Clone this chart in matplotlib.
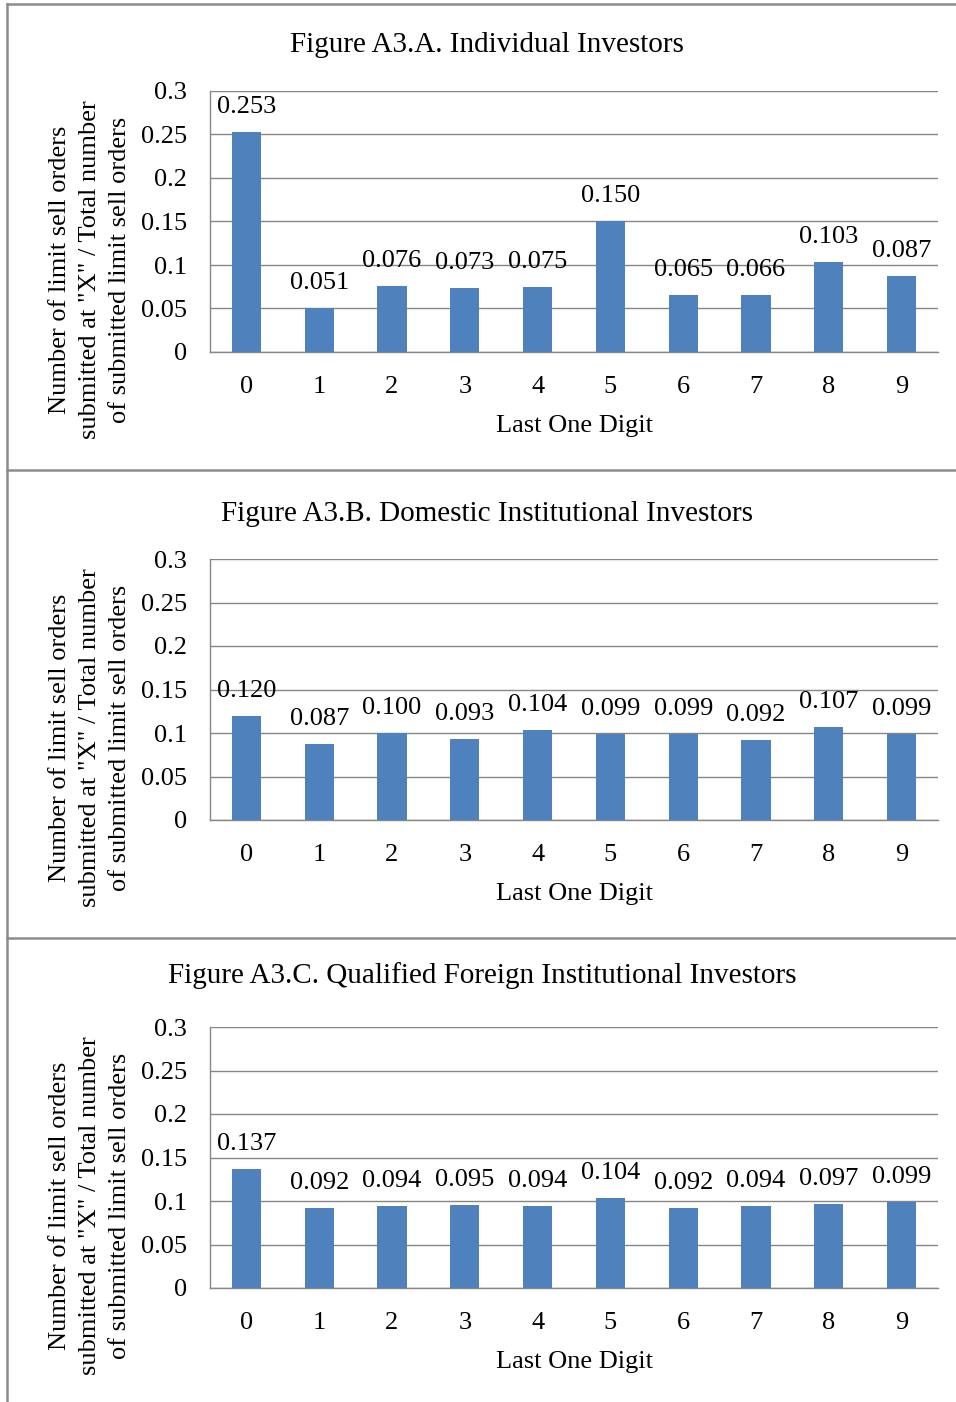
import matplotlib
matplotlib.use("Agg")
import matplotlib.pyplot as plt
from matplotlib.lines import Line2D

plt.rcParams['font.family'] = ['Liberation Serif', 'DejaVu Serif']

digits = ['0', '1', '2', '3', '4', '5', '6', '7', '8', '9']
vals_a = [0.253, 0.051, 0.076, 0.073, 0.075, 0.150, 0.065, 0.066, 0.103, 0.087]
vals_b = [0.120, 0.087, 0.100, 0.093, 0.104, 0.099, 0.099, 0.092, 0.107, 0.099]
vals_c = [0.137, 0.092, 0.094, 0.095, 0.094, 0.104, 0.092, 0.094, 0.097, 0.099]
titles = ["Figure A3.A. Individual Investors",
          "Figure A3.B. Domestic Institutional Investors",
          "Figure A3.C. Qualified Foreign Institutional Investors"]
yticks = [0, 0.05, 0.1, 0.15, 0.2, 0.25, 0.3]
ytick_labels = ['0', '0.05', '0.1', '0.15', '0.2', '0.25', '0.3']
ylabel_lines = ['Number of limit sell orders',
                'submitted at "X" / Total number',
                'of submitted limit sell orders']
xlabel = "Last One Digit"

W, H = 956, 1402
fig = plt.figure(figsize=(W / 100, H / 100), dpi=100)

bar_color = '#4F81BD'
grid_color = '#868686'
fs = 19
tfs = 21

# panel geometry in pixels: (axes top, axes bottom, title y, ylabel center y, title x)
panels = [
    (91, 352, 45, 270, 487),
    (559, 820, 514, 738, 487),
    (1027, 1288, 976, 1206, 482),
]
all_vals = [vals_a, vals_b, vals_c]

for (top, bot, ty, yc, tx), vals, title in zip(panels, all_vals, titles):
    ax = fig.add_axes([210 / W, 1 - bot / H, 728 / W, (bot - top) / H])
    x = list(range(len(digits)))
    ax.bar(x, vals, width=0.4, color=bar_color, zorder=3)
    ax.set_xlim(-0.5, 9.5)
    ax.set_ylim(0, 0.3)
    ax.set_yticks(yticks)
    ax.set_yticklabels(ytick_labels)
    ax.set_xticks(x)
    ax.set_xticklabels(digits)
    ax.tick_params(axis='both', length=0, labelsize=fs)
    ax.tick_params(axis='y', pad=16.5)
    ax.tick_params(axis='x', pad=17.5)
    ax.yaxis.grid(True, color=grid_color, lw=1.0, zorder=0)
    for s in ['top', 'right']:
        ax.spines[s].set_visible(False)
    for s in ['left', 'bottom']:
        ax.spines[s].set_color(grid_color)
        ax.spines[s].set_linewidth(1.0)
    for xi, v in zip(x, vals):
        ax.annotate(f"{v:.3f}", (xi, v), xytext=(0, 18), textcoords='offset points',
                    ha='center', va='center', fontsize=fs)
    fig.text(574 / W, 1 - (bot + 74) / H, xlabel, ha='center', va='center', fontsize=fs)
    fig.text(tx / W, 1 - ty / H, title, ha='center', va='center', fontsize=tfs)
    for i, line in enumerate(ylabel_lines):
        fig.text((60 + 30 * i) / W, 1 - yc / H, line, rotation=90,
                 ha='center', va='center', fontsize=fs)

# frame lines
lc = '#8c8c8c'
lw = 1.8
fig.add_artist(Line2D([7 / W, 7 / W], [0, 1 - 4 / H], color=lc, lw=lw, transform=fig.transFigure))
for yy in [4, 470, 938]:
    fig.add_artist(Line2D([7 / W, 1], [1 - yy / H, 1 - yy / H], color=lc, lw=lw, transform=fig.transFigure))

fig.savefig("out.png", dpi=100)
